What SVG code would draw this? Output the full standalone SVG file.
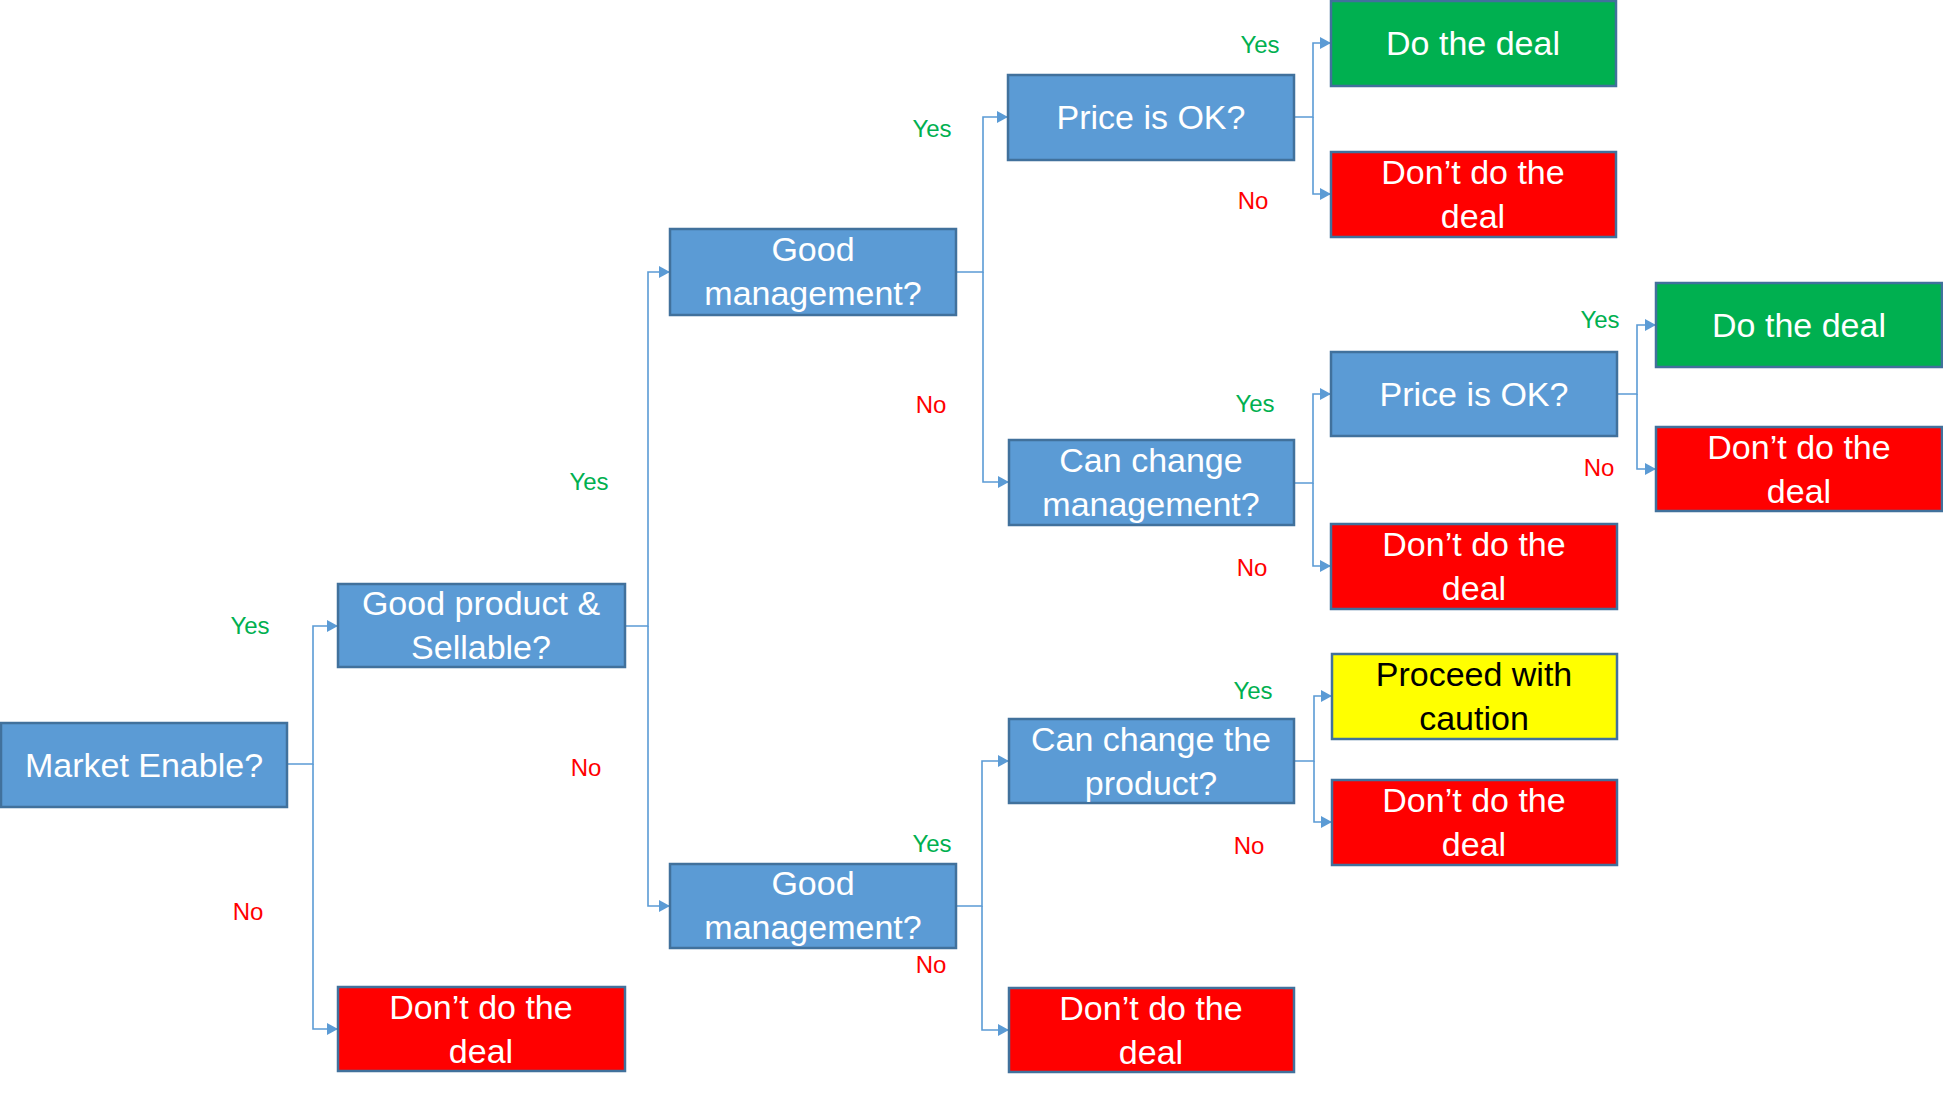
<svg xmlns="http://www.w3.org/2000/svg" width="1943" height="1098" viewBox="0 0 1943 1098">
<style>
.box{stroke:#41719C;stroke-width:2.5}
.q{fill:#5B9BD5}
.g{fill:#00B050}
.r{fill:#FF0000}
.y{fill:#FFFF00}
.t{font-family:"Liberation Sans",Arial,sans-serif;font-size:34px;fill:#FFFFFF;text-anchor:middle}
.tk{fill:#000000}
.lbl{font-family:"Liberation Sans",Arial,sans-serif;font-size:24px;text-anchor:middle}
.yes{fill:#00B050}
.no{fill:#FF0000}
.c{fill:none;stroke:#5B9BD5;stroke-width:1.6;marker-end:url(#ah)}
</style>
<defs>
<marker id="ah" markerUnits="userSpaceOnUse" markerWidth="12" markerHeight="12" refX="11" refY="6" orient="auto">
<path d="M0,0 L11,6 L0,12 z" fill="#5B9BD5"/>
</marker>
</defs>
<rect width="1943" height="1098" fill="#FFFFFF"/>
<g id="connectors">
<path class="c" d="M287,764 H313 V626 H338"/>
<path class="c" d="M313,764 V1029 H338"/>
<path class="c" d="M625,626 H648 V272 H670"/>
<path class="c" d="M648,626 V906 H670"/>
<path class="c" d="M956,272 H983 V117 H1008"/>
<path class="c" d="M983,272 V482 H1009"/>
<path class="c" d="M1294,117 H1313 V43 H1331"/>
<path class="c" d="M1313,117 V194 H1331"/>
<path class="c" d="M1294,483 H1313 V394 H1331"/>
<path class="c" d="M1313,483 V566 H1331"/>
<path class="c" d="M1617,394 H1637 V325 H1656"/>
<path class="c" d="M1637,394 V469 H1656"/>
<path class="c" d="M956,906 H982 V761 H1009"/>
<path class="c" d="M982,906 V1030 H1009"/>
<path class="c" d="M1294,761 H1314 V696 H1332"/>
<path class="c" d="M1314,761 V822 H1332"/>
</g>
<g id="labels">
<text class="lbl yes" x="250" y="634">Yes</text>
<text class="lbl no" x="248" y="920">No</text>
<text class="lbl yes" x="589" y="490">Yes</text>
<text class="lbl no" x="586" y="776">No</text>
<text class="lbl yes" x="932" y="137">Yes</text>
<text class="lbl no" x="931" y="413">No</text>
<text class="lbl yes" x="1260" y="53">Yes</text>
<text class="lbl no" x="1253" y="209">No</text>
<text class="lbl yes" x="1255" y="412">Yes</text>
<text class="lbl no" x="1252" y="576">No</text>
<text class="lbl yes" x="1600" y="328">Yes</text>
<text class="lbl no" x="1599" y="476">No</text>
<text class="lbl yes" x="1253" y="699">Yes</text>
<text class="lbl no" x="1249" y="854">No</text>
<text class="lbl yes" x="932" y="852">Yes</text>
<text class="lbl no" x="931" y="973">No</text>
</g>
<g id="market">
<rect class="box q" x="1" y="723" width="286" height="84"/>
<text class="t" x="144" y="777">Market Enable?</text>
</g>
<g id="goodProduct">
<rect class="box q" x="338" y="584" width="287" height="83"/>
<text class="t" x="481" y="615">Good product &amp;</text>
<text class="t" x="481" y="659">Sellable?</text>
</g>
<g id="dontDeal1">
<rect class="box r" x="338" y="987" width="287" height="84"/>
<text class="t" x="481" y="1019">Don’t do the</text>
<text class="t" x="481" y="1063">deal</text>
</g>
<g id="goodMgmt1">
<rect class="box q" x="670" y="229" width="286" height="86"/>
<text class="t" x="813" y="261">Good</text>
<text class="t" x="813" y="305">management?</text>
</g>
<g id="goodMgmt2">
<rect class="box q" x="670" y="864" width="286" height="84"/>
<text class="t" x="813" y="895">Good</text>
<text class="t" x="813" y="939">management?</text>
</g>
<g id="price1">
<rect class="box q" x="1008" y="75" width="286" height="85"/>
<text class="t" x="1151" y="129">Price is OK?</text>
</g>
<g id="doDeal1">
<rect class="box g" x="1331" y="1" width="285" height="85"/>
<text class="t" x="1473" y="55">Do the deal</text>
</g>
<g id="dontDeal2">
<rect class="box r" x="1331" y="152" width="285" height="85"/>
<text class="t" x="1473" y="184">Don’t do the</text>
<text class="t" x="1473" y="228">deal</text>
</g>
<g id="canChangeMgmt">
<rect class="box q" x="1009" y="440" width="285" height="85"/>
<text class="t" x="1151" y="472">Can change</text>
<text class="t" x="1151" y="516">management?</text>
</g>
<g id="price2">
<rect class="box q" x="1331" y="352" width="286" height="84"/>
<text class="t" x="1474" y="406">Price is OK?</text>
</g>
<g id="dontDeal3">
<rect class="box r" x="1331" y="524" width="286" height="85"/>
<text class="t" x="1474" y="556">Don’t do the</text>
<text class="t" x="1474" y="600">deal</text>
</g>
<g id="doDeal2">
<rect class="box g" x="1656" y="283" width="286" height="84"/>
<text class="t" x="1799" y="337">Do the deal</text>
</g>
<g id="dontDeal4">
<rect class="box r" x="1656" y="427" width="286" height="84"/>
<text class="t" x="1799" y="459">Don’t do the</text>
<text class="t" x="1799" y="503">deal</text>
</g>
<g id="canChangeProduct">
<rect class="box q" x="1009" y="719" width="285" height="84"/>
<text class="t" x="1151" y="751">Can change the</text>
<text class="t" x="1151" y="795">product?</text>
</g>
<g id="caution">
<rect class="box y" x="1332" y="654" width="285" height="85"/>
<text class="t tk" x="1474" y="686">Proceed with</text>
<text class="t tk" x="1474" y="730">caution</text>
</g>
<g id="dontDeal5">
<rect class="box r" x="1332" y="780" width="285" height="85"/>
<text class="t" x="1474" y="812">Don’t do the</text>
<text class="t" x="1474" y="856">deal</text>
</g>
<g id="dontDeal6">
<rect class="box r" x="1009" y="988" width="285" height="84"/>
<text class="t" x="1151" y="1020">Don’t do the</text>
<text class="t" x="1151" y="1064">deal</text>
</g>
</svg>
